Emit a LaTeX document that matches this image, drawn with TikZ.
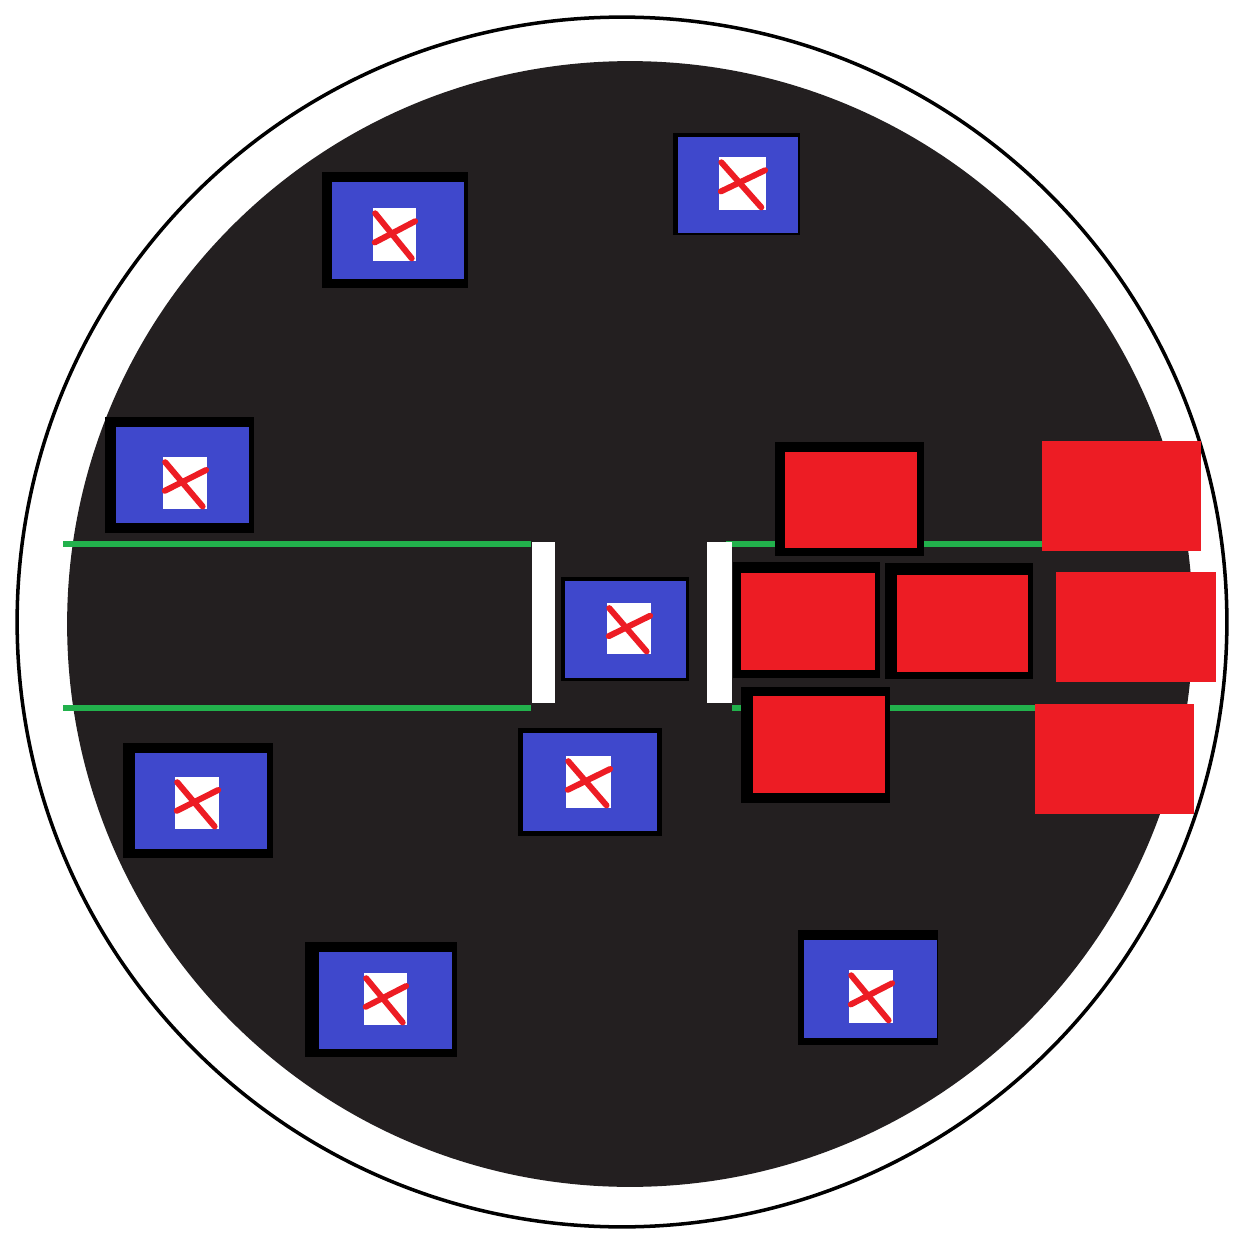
\documentclass[tikz,border=0pt]{standalone}
\definecolor{discblack}{HTML}{231F20}
\definecolor{paintblue}{HTML}{3F48CC}
\definecolor{paintred}{HTML}{ED1C24}
\definecolor{paintgreen}{HTML}{22B14C}
\tikzset{
  rim/.style={draw=black, line width=2pt},
  disc/.style={fill=discblack},
  rail/.style={draw=paintgreen, line width=3.9pt},
  gate/.style={fill=white},
  frameblk/.style={fill=black},
  bluefill/.style={fill=paintblue},
  whitesq/.style={fill=white},
  cross/.style={draw=paintred, line width=3.4pt, line cap=round},
  redfill/.style={fill=paintred}
}
\begin{document}
\begin{tikzpicture}[x=0.02cm, y=-0.02cm]
\useasboundingbox (0,0) rectangle (1233,1236);
\fill[white] (0,0) rectangle (1233,1236);
% disc and rim
\path[disc] (630,624) circle [radius=11.26cm];
\path[rim] (622,622) circle [radius=12.1cm];
% green rails
\coordinate (lt1) at (63,544); \coordinate (lt2) at (531,544);
\coordinate (lb1) at (63,708); \coordinate (lb2) at (531,708);
\coordinate (rt1) at (726,544); \coordinate (rt2) at (1042,544);
\coordinate (rb1) at (732,708); \coordinate (rb2) at (1036,708);
\draw[rail] (lt1) -- (lt2);
\draw[rail] (lb1) -- (lb2);
\draw[rail] (rt1) -- (rt2);
\draw[rail] (rb1) -- (rb2);
% white bars
\path[gate] (532,542) rectangle (555,703);
\path[gate] (707,542) rectangle (732,703);
% blue boxes
\foreach \fa/\fb/\fc/\fd/\ba/\bb/\bc/\bd/\wa/\wb/\wc/\wd in {
  322/172/468/288/332/182/464/279/373/208/416/261,
  673/133/800/235/678/137/798/233/719/157/766/210,
  105/417/254/533/116/427/249/523/163/457/207/509,
  561/577/689/681/565/581/686/678/607/603/651/654,
  123/743/273/858/135/753/267/849/175/777/219/829,
  518/728/662/836/523/733/657/831/566/756/611/808,
  305/942/457/1057/319/952/452/1049/364/973/407/1025,
  798/930/938/1045/804/940/937/1038/849/970/893/1023}{
  \path[frameblk] (\fa,\fb) rectangle (\fc,\fd);
  \path[bluefill] (\ba,\bb) rectangle (\bc,\bd);
  \path[whitesq] (\wa,\wb) rectangle (\wc,\wd);
  \begin{scope}
    \clip ({\wa-2},{\wb-2}) rectangle ({\wc+2},{\wd+2});
    \draw[cross] ({\wa+0.05*(\wc-\wa)},{\wb+0.1*(\wd-\wb)}) -- ({\wa+0.9*(\wc-\wa)},{\wb+0.95*(\wd-\wb)});
    \draw[cross] ({\wc-0.02*(\wc-\wa)},{\wb+0.25*(\wd-\wb)}) -- ({\wa+0.04*(\wc-\wa)},{\wb+0.65*(\wd-\wb)});
  \end{scope}
}
% framed red boxes
\foreach \fa/\fb/\fc/\fd/\ra/\rb/\rc/\rd in {
  775/442/924/556/785/452/917/548,
  733/562/880/678/741/573/875/670,
  885/563/1033/679/897/575/1028/672,
  741/687/890/803/753/696/885/793}{
  \path[frameblk] (\fa,\fb) rectangle (\fc,\fd);
  \path[redfill] (\ra,\rb) rectangle (\rc,\rd);
}
% plain red boxes
\path[redfill] (1042,441) rectangle (1201,551);
\path[redfill] (1056,572) rectangle (1216,682);
\path[redfill] (1035,704) rectangle (1194,814);
\end{tikzpicture}
\end{document}
